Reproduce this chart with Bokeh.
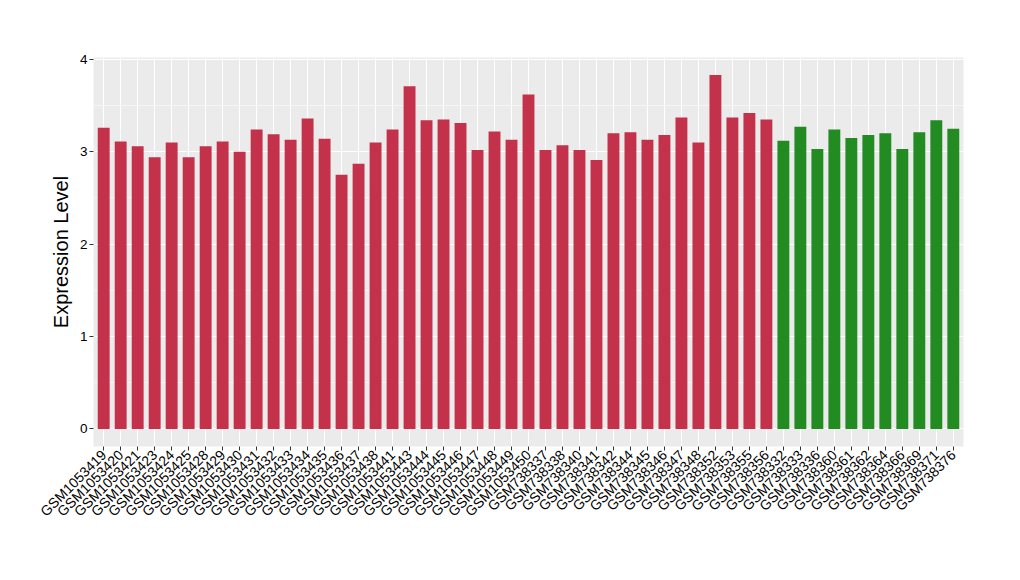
import math
from bokeh.plotting import figure
from bokeh.models import ColumnDataSource, FixedTicker, Range1d, FactorRange
from bokeh.embed import file_html
from bokeh.resources import INLINE

samples = [
    "GSM1053419", "GSM1053420", "GSM1053421", "GSM1053423", "GSM1053424", "GSM1053425",
    "GSM1053428", "GSM1053429", "GSM1053430", "GSM1053431", "GSM1053432", "GSM1053433",
    "GSM1053434", "GSM1053435", "GSM1053436", "GSM1053437", "GSM1053438", "GSM1053441",
    "GSM1053443", "GSM1053444", "GSM1053445", "GSM1053446", "GSM1053447", "GSM1053448",
    "GSM1053449", "GSM1053450", "GSM738337", "GSM738338", "GSM738340", "GSM738341",
    "GSM738342", "GSM738344", "GSM738345", "GSM738346", "GSM738347", "GSM738348",
    "GSM738352", "GSM738353", "GSM738355", "GSM738356",
    "GSM738332", "GSM738333", "GSM738336", "GSM738360", "GSM738361", "GSM738362",
    "GSM738364", "GSM738366", "GSM738369", "GSM738371", "GSM738376",
]
values = [
    3.26, 3.11, 3.06, 2.94, 3.10, 2.94, 3.06, 3.11, 3.00, 3.24, 3.19, 3.13,
    3.36, 3.14, 2.75, 2.87, 3.10, 3.24, 3.71, 3.34, 3.35, 3.31, 3.02, 3.22,
    3.13, 3.62, 3.02, 3.07, 3.02, 2.91, 3.20, 3.21, 3.13, 3.18, 3.37, 3.10,
    3.83, 3.37, 3.42, 3.35,
    3.12, 3.27, 3.03, 3.24, 3.15, 3.18, 3.20, 3.03, 3.21, 3.34, 3.25,
]
groups = ["red"] * 40 + ["green"] * 11
group_colors = {"red": "#C3314A", "green": "#228B22"}
colors = [group_colors[g] for g in groups]

source = ColumnDataSource(dict(x=samples, top=values, color=colors))

FONT = "Liberation Sans"

p = figure(
    x_range=FactorRange(*samples, range_padding=0.1, range_padding_units="absolute"),
    y_range=Range1d(-0.19, 4.02),
    width=1004, height=564,
    output_backend="svg", toolbar_location=None,
    min_border_left=93, min_border_right=41, min_border_top=57, min_border_bottom=118,
)
p.x_range.factor_padding = 0
p.vbar(x="x", top="top", bottom=0, width=0.7, color="color", source=source, line_color=None)

p.background_fill_color = "#EBEBEB"
p.border_fill_color = "white"
p.outline_line_color = None

p.yaxis.ticker = FixedTicker(ticks=[0, 1, 2, 3, 4], minor_ticks=[0.5, 1.5, 2.5, 3.5])
p.ygrid.grid_line_color = "white"
p.ygrid.grid_line_width = 1.1
p.ygrid.minor_grid_line_color = "white"
p.ygrid.minor_grid_line_width = 0.5
p.xgrid.grid_line_color = "white"
p.xgrid.grid_line_width = 1.1

for ax in (p.xaxis[0], p.yaxis[0]):
    ax.axis_line_color = None
    ax.major_tick_line_color = "#333333"
    ax.major_tick_in = 0
    ax.major_tick_out = 4
    ax.minor_tick_line_color = None
    ax.major_label_text_font = FONT
    ax.major_label_text_color = "black"
    ax.major_label_text_font_size = "13.5px"

p.xaxis.major_label_text_font_size = "14px"
p.xaxis.major_label_orientation = math.pi / 4
p.xaxis.major_label_standoff = 2
p.yaxis.major_label_standoff = 2
p.yaxis.axis_label = "Expression Level"
p.yaxis.axis_label_text_font = FONT
p.yaxis.axis_label_text_font_style = "normal"
p.yaxis.axis_label_text_font_size = "20px"
p.yaxis.axis_label_text_color = "black"
p.yaxis.axis_label_standoff = 5

open("out.html", "w").write(file_html(p, INLINE))
